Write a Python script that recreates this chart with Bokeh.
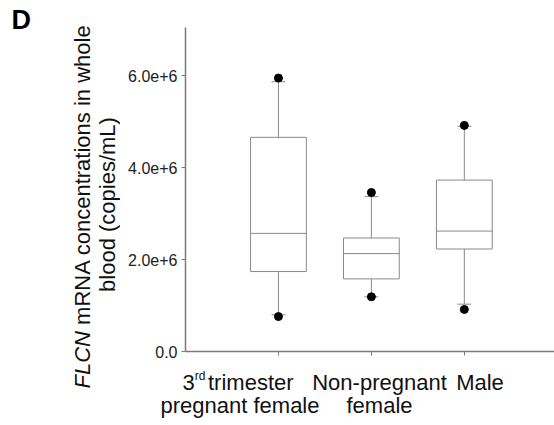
import math
from bokeh.plotting import figure
from bokeh.models import Range1d, FixedTicker
from bokeh.layouts import row, column
from bokeh.core.properties import value
from bokeh.embed import file_html
from bokeh.resources import INLINE

# ---- data ----
categories = [1, 2, 3]
group_names = ["3rd trimester pregnant female", "Non-pregnant female", "Male"]
q1 = [1.74e6, 1.58e6, 2.23e6]
median = [2.57e6, 2.13e6, 2.62e6]
q3 = [4.66e6, 2.47e6, 3.73e6]
whisker_low = [0.80e6, 1.19e6, 1.03e6]
whisker_high = [5.87e6, 3.37e6, 4.90e6]
outlier_low = [0.76e6, 1.19e6, 0.915e6]
outlier_high = [5.95e6, 3.46e6, 4.92e6]
y_ticks = [0, 2e6, 4e6, 6e6]
y_tick_labels = ["0.0", "2.0e+6", "4.0e+6", "6.0e+6"]

# ---- layout (pixels) ----
W, H = 554, 425
LEFT_W = 120          # width of the left text strip
TOP_H = 365           # height of the main plot
FL, FT, FB = 185, 27, 351   # frame edges of the main plot
XMIN, XMAX = 0.0, 3.97
YMIN, YMAX = 0.0, 7.05e6
FONT = "Liberation Sans"
AX_COL = "#7a7a7a"
BOX_COL = "#8a8a8a"
TXT_COL = "#111111"
ROT_SHIFT = -8        # measured offset of rotated text baselines
H_SHIFT = -4          # measured offset of horizontal text baselines


def blank_fig(w, h, x0):
    f = figure(width=w, height=h, x_range=Range1d(x0, x0 + w), y_range=Range1d(0, h),
               output_backend="svg", toolbar_location=None, title=None,
               x_axis_location=None, y_axis_location=None,
               min_border=0, min_border_left=0, min_border_right=0,
               min_border_top=0, min_border_bottom=0)
    f.grid.visible = False
    f.outline_line_color = None
    f.background_fill_color = "white"
    f.border_fill_color = "white"
    return f


# ---- main plot ----
p = figure(width=W - LEFT_W, height=TOP_H, x_range=Range1d(XMIN, XMAX),
           y_range=Range1d(YMIN, YMAX), output_backend="svg", toolbar_location=None,
           title=None, min_border_left=FL - LEFT_W, min_border_right=0, min_border_top=FT,
           min_border_bottom=TOP_H - FB)
p.outline_line_color = None
p.xgrid.visible = False
p.ygrid.visible = False
p.background_fill_color = "white"
p.border_fill_color = "white"

ya = p.yaxis[0]
ya.ticker = FixedTicker(ticks=y_ticks)
ya.major_label_overrides = {t: l for t, l in zip(y_ticks, y_tick_labels)}
ya.major_tick_in = 0
ya.major_tick_out = 4
ya.minor_tick_line_color = None
ya.axis_line_color = AX_COL
ya.axis_line_width = 1.5
ya.major_tick_line_color = AX_COL
ya.major_label_text_font = FONT
ya.major_label_text_font_size = "16px"
ya.major_label_text_color = "#222222"
ya.major_label_standoff = 4

xa = p.xaxis[0]
xa.ticker = FixedTicker(ticks=categories)
xa.major_label_overrides = {c: "" for c in categories}
xa.major_label_text_font_size = "4px"
xa.major_label_standoff = 0
xa.major_tick_in = 0
xa.major_tick_out = 4
xa.minor_tick_line_color = None
xa.axis_line_color = AX_COL
xa.axis_line_width = 1.5
xa.major_tick_line_color = AX_COL

BW = 0.60
CW = 0.15
p.vbar(x=categories, bottom=q1, top=q3, width=BW, fill_color=None,
       line_color=BOX_COL, line_width=1)
p.segment(x0=[c - BW / 2 for c in categories], x1=[c + BW / 2 for c in categories],
          y0=median, y1=median, line_color=BOX_COL, line_width=1)
p.segment(x0=categories, x1=categories, y0=q3, y1=whisker_high, line_color=BOX_COL, line_width=1)
p.segment(x0=categories, x1=categories, y0=q1, y1=whisker_low, line_color=BOX_COL, line_width=1)
p.segment(x0=[c - CW / 2 for c in categories], x1=[c + CW / 2 for c in categories],
          y0=whisker_high, y1=whisker_high, line_color=BOX_COL, line_width=1)
p.segment(x0=[c - CW / 2 for c in categories], x1=[c + CW / 2 for c in categories],
          y0=whisker_low, y1=whisker_low, line_color=BOX_COL, line_width=1)
p.scatter(x=categories, y=outlier_high, size=8, color="black")
p.scatter(x=categories, y=outlier_low, size=8, color="black")


def ptext(f, txt, px, py, size, align="left", style="normal", angle=0.0, color=TXT_COL):
    # px, py: page pixel position (from the page's top-left corner)
    f.text(x=[px], y=[H - py], text=[txt], text_font=value(FONT),
           text_font_size=value(f"{size}px"), text_font_style=style,
           text_align=align, text_baseline="alphabetic", angle=angle, text_color=color)


FS = 22

# ---- left strip: panel letter and y-axis title ----
left = blank_fig(LEFT_W, H, 0)
ptext(left, "D", 11, 28 - 9, 27, style="bold", color="black")
w_flcn = 2.611 * FS
w_space = 0.278 * FS
ptext(left, "FLCN", 90 + ROT_SHIFT, 388, FS, style="italic", angle=math.pi / 2)
ptext(left, "mRNA concentrations in whole", 90 + ROT_SHIFT, 388 - w_flcn - w_space, FS,
      angle=math.pi / 2)
ptext(left, "blood (copies/mL)", 115 + ROT_SHIFT, 204, FS, align="center", angle=math.pi / 2)

# ---- bottom strip: category labels ----
bottom = blank_fig(W - LEFT_W, H - TOP_H, LEFT_W)
L1, L2 = 386 + H_SHIFT, 409 + H_SHIFT
ptext(bottom, "3", 182, L1, FS)
ptext(bottom, "rd", 182 + 0.556 * FS, L1 - 7, 12)
ptext(bottom, "trimester", 207.5, L1, FS)
ptext(bottom, "pregnant female", 239.5, L2, FS, align="center")
ptext(bottom, "Non-pregnant", 379, L1, FS, align="center")
ptext(bottom, "female", 379, L2, FS, align="center")
ptext(bottom, "Male", 479.5, L1, FS, align="center")

layout = row(left, column(p, row(bottom, spacing=0), spacing=0), spacing=0)
open("out.html", "w").write(file_html(layout, INLINE))
